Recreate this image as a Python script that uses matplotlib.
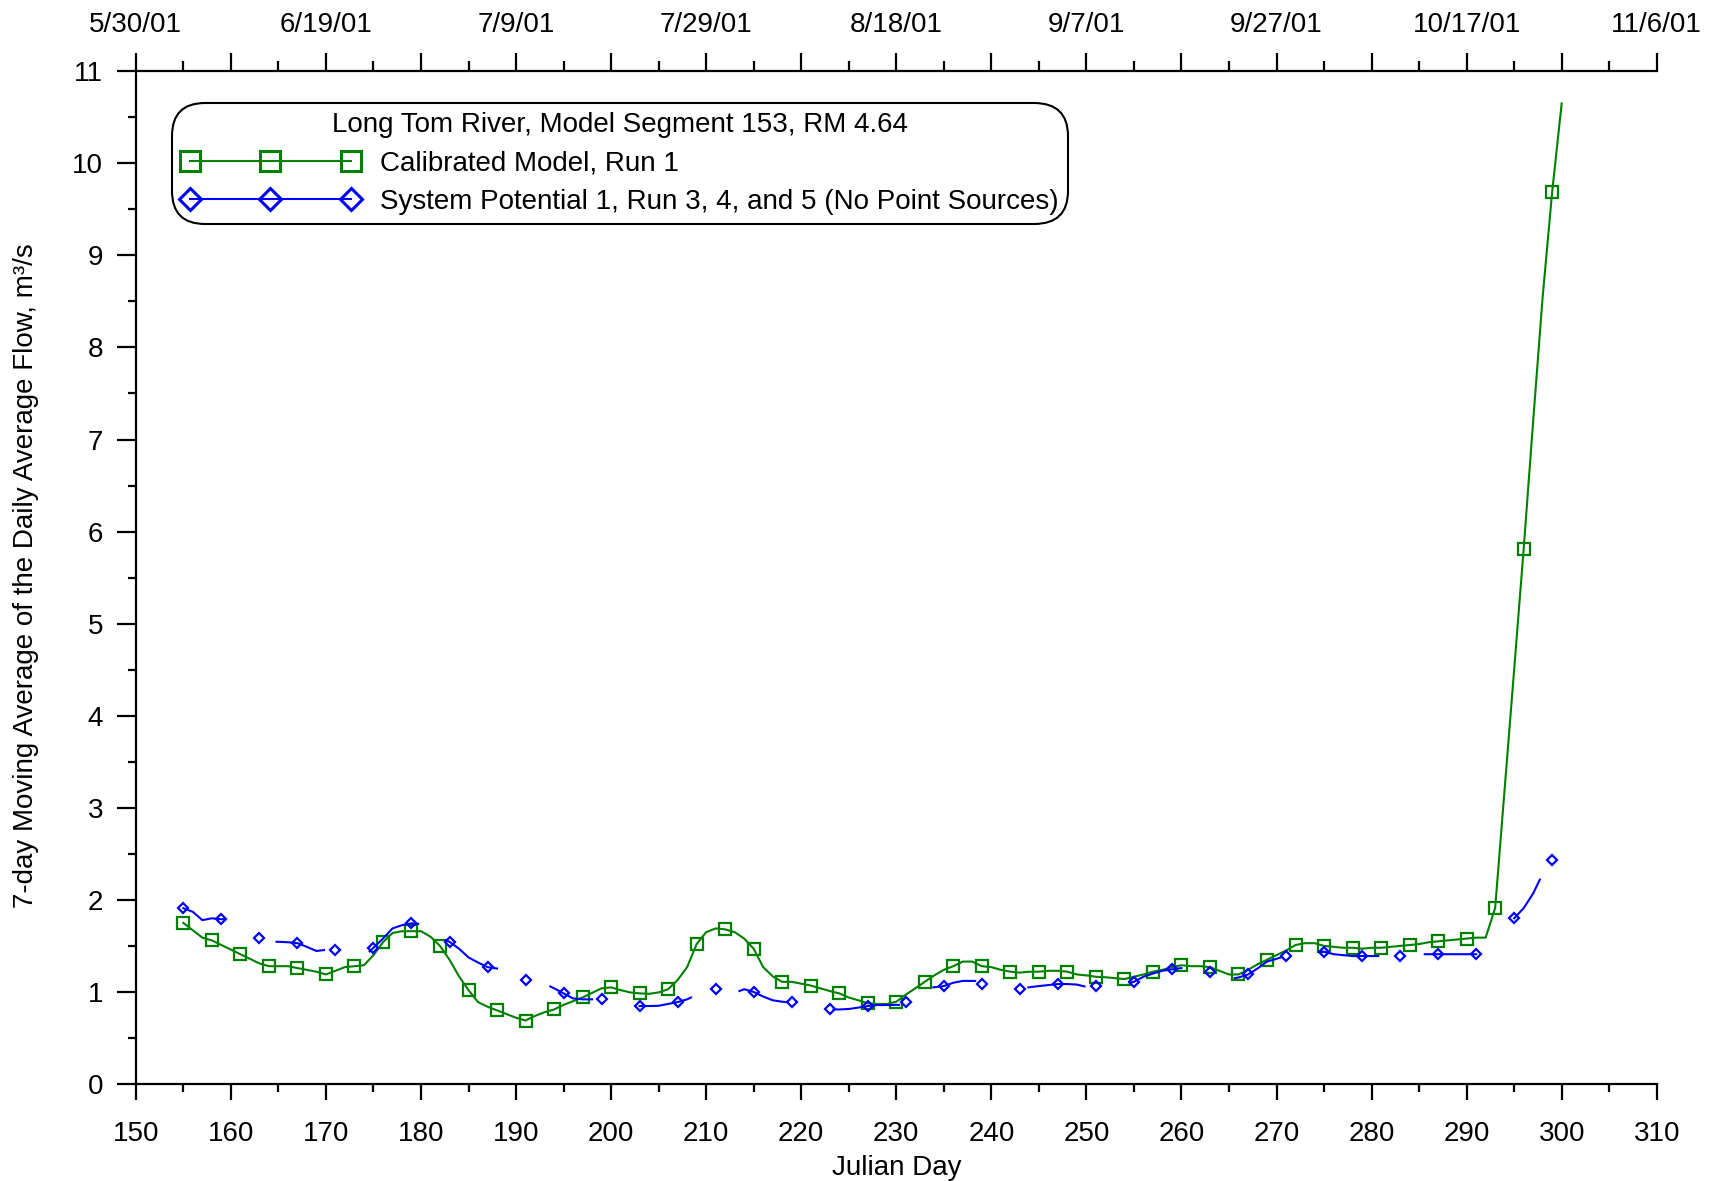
import numpy as np
import matplotlib
matplotlib.use('Agg')
import matplotlib.pyplot as plt
from matplotlib.lines import Line2D
from datetime import date, timedelta

plt.rcParams['font.family'] = ['Liberation Sans', 'DejaVu Sans']

# Calibrated model, daily values, julian day 155..300
green_days = np.arange(155, 301)
green_flow = [
    1.75, 1.67, 1.59, 1.56, 1.51, 1.46, 1.41, 1.36, 1.31, 1.28,   # 155-164
    1.28, 1.28, 1.26, 1.24, 1.22, 1.19, 1.23, 1.27, 1.28, 1.29,   # 165-174
    1.40, 1.54, 1.64, 1.66, 1.66, 1.66, 1.60, 1.50, 1.35, 1.17,   # 175-184
    1.02, 0.89, 0.84, 0.80, 0.76, 0.72, 0.69, 0.74, 0.78, 0.81,   # 185-194
    0.86, 0.90, 0.94, 0.99, 1.04, 1.05, 1.02, 0.995, 0.985, 0.98,  # 195-204
    0.995, 1.03, 1.13, 1.27, 1.52, 1.65, 1.69, 1.68, 1.65, 1.58,  # 205-214
    1.47, 1.27, 1.17, 1.11, 1.11, 1.09, 1.07, 1.04, 1.01, 0.985,  # 215-224
    0.94, 0.91, 0.876, 0.87, 0.87, 0.894, 0.97, 1.04, 1.11, 1.18,  # 225-234
    1.24, 1.28, 1.33, 1.33, 1.28, 1.27, 1.24, 1.22, 1.21, 1.22,   # 235-244
    1.22, 1.23, 1.23, 1.22, 1.19, 1.18, 1.165, 1.16, 1.15, 1.14,  # 245-254
    1.165, 1.19, 1.22, 1.24, 1.27, 1.29, 1.28, 1.28, 1.27, 1.23,  # 255-264
    1.19, 1.19, 1.24, 1.30, 1.35, 1.40, 1.45, 1.51, 1.53, 1.53,   # 265-274
    1.50, 1.49, 1.48, 1.48, 1.47, 1.48, 1.48, 1.49, 1.50, 1.51,   # 275-284
    1.52, 1.54, 1.55, 1.56, 1.57, 1.58, 1.59, 1.59, 1.91, 3.20,   # 285-294
    4.50, 5.81, 7.20, 8.55, 9.69, 10.65,                          # 295-300
]

# System potential line pieces (nan = break in the line)
blue_line_days = [
    155, 156, 157, 158, 159, 159.4, np.nan,
    164.8, 165, 166, 167, 168, 169, 169.8, np.nan,
    174.6, 175, 176, 177, 178, 179, 179.7, np.nan,
    182.6, 183, 184, 185, 186, 187, 188, np.nan,
    193.6, 194, 195, 196, 197, 198, np.nan,
    203, 204, 205, 206, 207, 208, 208.4, np.nan,
    213.5, 214, 215, 216, 217, 218, 218.5, np.nan,
    223.4, 224, 225, 226, 227, 228, 229, 230, 230.3, np.nan,
    233.9, 235, 236, 237, 238, 238.3, np.nan,
    243.9, 245, 246, 247, 248, 249, 249.8, np.nan,
    254.6, 255, 256, 257, 258, 259, 260, np.nan,
    265.6, 266, 267, 268, 269, 270, 270.6, np.nan,
    274.6, 275, 276, 277, 278, 279, 280, 280.7, np.nan,
    285.6, 287, 289, 291, np.nan,
    295, 296, 297, 297.7,
]
blue_line_flow = [
    1.91, 1.87, 1.78, 1.80, 1.79, 1.79, np.nan,
    1.545, 1.545, 1.54, 1.53, 1.49, 1.445, 1.455, np.nan,
    1.44, 1.48, 1.58, 1.69, 1.725, 1.745, 1.74, np.nan,
    1.56, 1.545, 1.47, 1.375, 1.32, 1.27, 1.255, np.nan,
    1.06, 1.04, 0.985, 0.93, 0.92, 0.92, np.nan,
    0.847, 0.847, 0.85, 0.87, 0.89, 0.92, 0.94, np.nan,
    1.01, 1.03, 1.00, 0.95, 0.91, 0.894, 0.89, np.nan,
    0.81, 0.81, 0.815, 0.83, 0.847, 0.858, 0.858, 0.86, 0.86, np.nan,
    1.05, 1.064, 1.10, 1.12, 1.12, 1.12, np.nan,
    1.05, 1.064, 1.075, 1.086, 1.086, 1.08, 1.06, np.nan,
    1.10, 1.11, 1.165, 1.20, 1.23, 1.245, 1.26, np.nan,
    1.15, 1.157, 1.19, 1.255, 1.33, 1.36, 1.38, np.nan,
    1.44, 1.437, 1.41, 1.40, 1.39, 1.39, 1.39, 1.39, np.nan,
    1.41, 1.41, 1.41, 1.41, np.nan,
    1.80, 1.91, 2.07, 2.22,
]

# System potential symbols, every 4 days
blue_mark_days = np.arange(155, 300, 4)
blue_mark_flow = [
    1.91, 1.79, 1.59, 1.53, 1.455, 1.48, 1.745, 1.545, 1.27, 1.13,
    0.985, 0.92, 0.847, 0.894, 1.028, 1.00, 0.894, 0.814, 0.847, 0.894,
    1.064, 1.086, 1.028, 1.086, 1.064, 1.11, 1.245, 1.22, 1.19, 1.39,
    1.437, 1.39, 1.39, 1.41, 1.41, 1.80, 2.43,
]

GREEN = '#008000'
BLUE = '#0000ff'
FS = 20

fig = plt.figure(figsize=(17.17, 11.81), dpi=100)
ax = fig.add_axes([0.0791, 0.0821, 0.8858, 0.8576])

ax.plot(green_days, green_flow, color=GREEN, lw=1.5,
        marker='s', markevery=3, ms=8, mfc='none', mec=GREEN, mew=1.6)
ax.plot(blue_line_days, blue_line_flow, color=BLUE, lw=1.5)
ax.plot(blue_mark_days, blue_mark_flow, ls='none', marker='D', ms=5,
        mfc='none', mec=BLUE, mew=1.6)

ax.set_xlim(150, 310)
ax.set_ylim(0, 11)
ax.set_xticks(np.arange(150, 311, 10))
ax.set_xticks(np.arange(155, 310, 10), minor=True)
ax.set_yticks(np.arange(0, 12, 1))
ax.set_yticks(np.arange(0.5, 11, 1), minor=True)

for s in ['top', 'right']:
    ax.spines[s].set_visible(False)
for s in ['left', 'bottom']:
    ax.spines[s].set_linewidth(1.6)

ax.tick_params(axis='both', which='major', labelsize=FS, width=1.6, direction='out')
ax.tick_params(axis='both', which='minor', width=1.6, direction='out')
ax.tick_params(axis='x', which='major', length=11.5, pad=15)
ax.tick_params(axis='x', which='minor', length=6)
ax.tick_params(axis='y', which='major', length=13.5, pad=10)
ax.tick_params(axis='y', which='minor', length=6)

ax.set_xlabel('Julian Day', fontsize=FS, labelpad=6)
fig.text(26 / 1717, 1 - 576 / 1181,
         '7-day Moving Average of the Daily Average Flow, m³/s',
         rotation=90, ha='center', va='center', fontsize=FS)

# top date axis
ax2 = ax.twiny()
ax2.set_xlim(150, 310)
top_days = np.arange(150, 311, 10)
top_labels = []
for d in top_days:
    if (d - 150) % 20 == 0:
        dt = date(2001, 1, 1) + timedelta(days=int(d) - 1)
        top_labels.append(f'{dt.month}/{dt.day}/01')
    else:
        top_labels.append('')
ax2.set_xticks(top_days)
ax2.set_xticklabels(top_labels)
ax2.set_xticks(np.arange(155, 310, 10), minor=True)
for s in ['left', 'right', 'bottom']:
    ax2.spines[s].set_visible(False)
ax2.spines['top'].set_linewidth(1.6)
ax2.tick_params(axis='x', which='major', labelsize=FS, width=1.6, length=13, pad=11)
ax2.tick_params(axis='x', which='minor', width=1.6, length=7)

# legend
h1 = Line2D([], [], color=GREEN, lw=1.5, marker='s', ms=15, mfc='none',
            mec=GREEN, mew=2.2)
h2 = Line2D([], [], color=BLUE, lw=1.5, marker='D', ms=11, mfc='none',
            mec=BLUE, mew=2.2)
leg = ax.legend([h1, h2],
                ['Calibrated Model, Run 1',
                 'System Potential 1, Run 3, 4, and 5 (No Point Sources)'],
                title='Long Tom River, Model Segment 153, RM 4.64',
                loc='upper left', bbox_to_anchor=(0.0238, 0.969),
                borderaxespad=0, numpoints=3, handlelength=6.4,
                handletextpad=0.75, borderpad=0.33, labelspacing=0.45,
                fontsize=FS, title_fontsize=FS, fancybox=True,
                framealpha=1, edgecolor='black')
leg.get_frame().set_linewidth(1.5)
leg.get_frame().set_boxstyle('round', pad=0, rounding_size=1.2)

fig.savefig('out.png', dpi=100)
